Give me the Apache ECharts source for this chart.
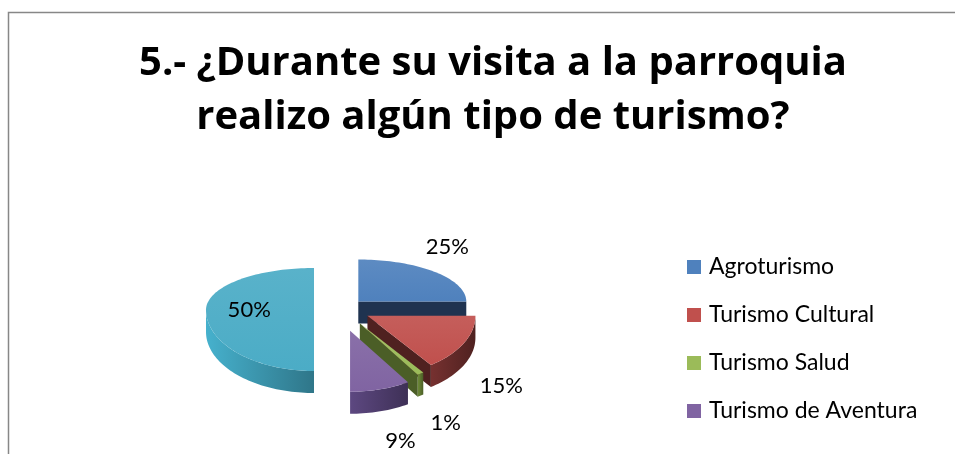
<!DOCTYPE html>
<html>
<head>
<meta charset="utf-8">
<script src="https://cdn.jsdelivr.net/npm/echarts@6/dist/echarts.min.js"></script>
<style>
html,body{margin:0;padding:0;background:#fff;}
#chart{width:955px;height:454px;}
</style>
</head>
<body>
<div id="chart"></div>
<script>
// datos del grafico
var categorias = ['Agroturismo', 'Turismo Cultural', 'Turismo Salud', 'Turismo de Aventura', 'Ninguno'];
var valores = [25, 15, 1, 9, 50];
var leyenda = ['Agroturismo', 'Turismo Cultural', 'Turismo Salud', 'Turismo de Aventura'];

var colores = ['#4F81BD', '#C0504D', '#9BBB59', '#8064A2', '#4BACC6'];
var coloresLado = ['#1f3350', '#4f2120', '#4b5e27', '#3e3056', '#2f7689'];
var explode = [40, 42, 53, 72, 16];     // separacion de cada porcion (px)

var chart = echarts.init(document.getElementById('chart'));

var cx0 = 330, cy0 = 310;
var rx = 108, ryB = 42, ryF = 61, prof = 22;
var fuenteEtiq = 22, separacion = 18;
var total = valores.reduce(function (a, b) { return a + b; }, 0);
var ctx = document.createElement('canvas').getContext('2d');
ctx.font = fuenteEtiq + 'px Lato';

function punto(vx, vy, a, r) {
  var c = Math.cos(a);
  return [vx + r * rx * Math.sin(a), vy - r * (c > 0 ? ryB : ryF) * c];
}
function arco(vx, vy, a0, a1, dy) {
  var pts = [], n = Math.max(2, Math.ceil(Math.abs(a1 - a0) / 0.03));
  for (var i = 0; i <= n; i++) {
    var p = punto(vx, vy, a0 + (a1 - a0) * i / n, 1);
    pts.push([p[0], p[1] + (dy || 0)]);
  }
  return pts;
}

function renderItem(params, api) {
  var i = params.dataIndex;
  var antes = 0;
  for (var k = 0; k < i; k++) antes += valores[k];
  var a0 = antes / total * Math.PI * 2;
  var a1 = (antes + api.value(0)) / total * Math.PI * 2;
  var am = (a0 + a1) / 2;
  var vx = cx0 + explode[i] * Math.sin(am);
  var vy = cy0 - explode[i] * Math.cos(am) * 0.3;
  var hijos = [];
  var base = i * 10;

  // pared exterior (solo la parte frontal)
  var f0 = Math.max(a0, Math.PI / 2), f1 = Math.min(a1, Math.PI * 1.5);
  if (f1 > f0) {
    var sup = arco(vx, vy, f0, f1, 0);
    var inf = arco(vx, vy, f0, f1, prof).reverse();
    hijos.push({
      type: 'polygon', z2: base + 1,
      shape: { points: sup.concat(inf) },
      style: {
        fill: new echarts.graphic.LinearGradient(1, 0, 0, 0, [
          { offset: 0, color: coloresLado[i] },
          { offset: 1, color: echarts.color.lift(coloresLado[i], -0.5) }
        ])
      }
    });
  }
  // caras de corte visibles
  [[a0, a0 - Math.PI / 2], [a1, a1 + Math.PI / 2]].forEach(function (e) {
    if (Math.cos(e[1]) < -0.01) {
      var p = punto(vx, vy, e[0], 1);
      hijos.push({
        type: 'polygon', z2: base + 2,
        shape: { points: [[vx, vy], p, [p[0], p[1] + prof], [vx, vy + prof]] },
        style: { fill: coloresLado[i] }
      });
    }
  });
  // cara superior
  var top = [[vx, vy]].concat(arco(vx, vy, a0, a1, 0));
  hijos.push({
    type: 'polygon', z2: base + 5,
    shape: { points: top },
    style: {
      fill: new echarts.graphic.LinearGradient(0, 0, 0, 1, [
        { offset: 0, color: echarts.color.lift(colores[i], 0.08) },
        { offset: 1, color: colores[i] }
      ])
    }
  });
  // etiqueta: dentro para la porcion grande, fuera para las demas
  var texto = api.value(0) + '%';
  var ex, ey;
  if (api.value(0) >= 50) {
    var pi = punto(vx, vy, am, 0.6);
    ex = pi[0]; ey = pi[1];
  } else {
    var ux = Math.sin(am), uy = -Math.cos(am);
    var pb = punto(vx, vy, am, 1);
    var hw = ctx.measureText(texto).width / 2, hh = fuenteEtiq * 0.55;
    if (uy > 0) {
      pb[1] += prof;
      ex = pb[0] + separacion * ux + hw * Math.sign(ux);
    } else {
      ex = pb[0] + separacion * ux;
    }
    ey = pb[1] + separacion * uy + hh * Math.sign(uy);
  }
  hijos.push({
    type: 'text', z2: 100,
    x: ex, y: ey,
    style: {
      text: texto,
      fontFamily: 'Lato', fontSize: fuenteEtiq, fill: '#000',
      align: 'center', verticalAlign: 'middle'
    }
  });
  return { type: 'group', children: hijos };
}

chart.setOption({
  color: colores,
  animation: false,
  title: {
    text: '5.- ¿Durante su visita a la parroquia\nrealizo algún tipo de turismo?',
    left: 488,
    top: 32,
    textAlign: 'center',
    textStyle: {
      fontFamily: 'Open Sans', fontWeight: 'bold', fontSize: 40,
      lineHeight: 54, color: '#000'
    }
  },
  legend: {
    data: leyenda,
    orient: 'vertical',
    left: 682,
    top: 250,
    icon: 'rect',
    itemWidth: 14,
    itemHeight: 14,
    itemGap: 24,
    textStyle: { fontFamily: 'Lato', fontSize: 23, lineHeight: 24, color: '#000', padding: [0, 0, 0, 3] }
  },
  graphic: [{
    type: 'rect',
    shape: { x: 8.5, y: 12.5, width: 1000, height: 500 },
    style: { fill: 'none', stroke: '#878787', lineWidth: 1.5 },
    silent: true
  }],
  series: [
    {
      // solo para la leyenda
      type: 'pie',
      center: [-500, -500],
      radius: 10,
      label: { show: false },
      data: categorias.map(function (c, i) { return { name: c, value: valores[i] }; })
    },
    {
      type: 'custom',
      coordinateSystem: 'none',
      renderItem: renderItem,
      data: valores
    }
  ]
});
</script>
</body>
</html>
